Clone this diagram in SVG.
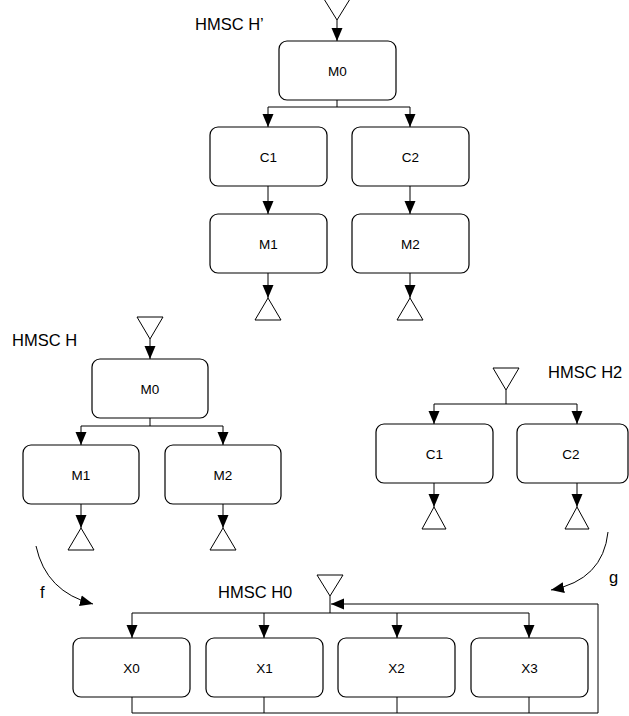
<svg xmlns="http://www.w3.org/2000/svg" width="629" height="716" viewBox="0 0 629 716">
<defs>
<marker id="ah" markerUnits="userSpaceOnUse" markerWidth="13" markerHeight="12" refX="13" refY="6" orient="auto">
<path d="M0,0.5 L13,6 L0,11.5 z" fill="#000"/>
</marker>
</defs>
<style>
.box{fill:#fff;stroke:#000;stroke-width:1.2}
.tri{fill:#fff;stroke:#000;stroke-width:1}
.ln{fill:none;stroke:#000;stroke-width:1}
.arr{fill:none;stroke:#000;stroke-width:1;marker-end:url(#ah)}
.bl{font-family:"Liberation Sans",Arial,sans-serif;font-size:13.5px;text-anchor:middle;fill:#000}
.ttl{font-family:"Liberation Sans",Arial,sans-serif;font-size:16.5px;fill:#000}
</style>
<rect width="629" height="716" fill="#fff"/>

<!-- HMSC H' -->
<text class="ttl" x="195" y="30">HMSC H’</text>
<g id="hp-start"><polygon class="tri" points="324,-1 350,-1 337,20"/></g>
<g id="hp-M0"><rect class="box" x="279" y="41" width="117" height="59" rx="8"/><text class="bl" x="337.5" y="75.5">M0</text></g>
<g id="hp-C1"><rect class="box" x="210" y="127" width="117" height="59" rx="8"/><text class="bl" x="268.5" y="161.5">C1</text></g>
<g id="hp-C2"><rect class="box" x="352" y="127" width="117" height="59" rx="8"/><text class="bl" x="410.5" y="161.5">C2</text></g>
<g id="hp-M1"><rect class="box" x="210" y="214" width="117" height="59" rx="8"/><text class="bl" x="268.5" y="248.5">M1</text></g>
<g id="hp-M2"><rect class="box" x="352" y="214" width="117" height="59" rx="8"/><text class="bl" x="410.5" y="248.5">M2</text></g>
<g id="hp-end1"><polygon class="tri" points="268,298 255,320 281,320"/></g>
<g id="hp-end2"><polygon class="tri" points="410,298 397,320 423,320"/></g>

<!-- HMSC H -->
<text class="ttl" x="12" y="346">HMSC H</text>
<g id="h-start"><polygon class="tri" points="137,317 163,317 150,339"/></g>
<g id="h-M0"><rect class="box" x="92" y="359" width="116" height="59" rx="8"/><text class="bl" x="150" y="393.5">M0</text></g>
<g id="h-M1"><rect class="box" x="23" y="445" width="116" height="59" rx="8"/><text class="bl" x="81" y="479.5">M1</text></g>
<g id="h-M2"><rect class="box" x="165" y="445" width="116" height="59" rx="8"/><text class="bl" x="223" y="479.5">M2</text></g>
<g id="h-end1"><polygon class="tri" points="81,528 68,550 94,550"/></g>
<g id="h-end2"><polygon class="tri" points="223,528 210,550 236,550"/></g>

<!-- HMSC H2 -->
<text class="ttl" x="548" y="378">HMSC H2</text>
<g id="h2-start"><polygon class="tri" points="493,368 519,368 506,390"/></g>
<g id="h2-C1"><rect class="box" x="376" y="424" width="117" height="59" rx="8"/><text class="bl" x="434.5" y="458.5">C1</text></g>
<g id="h2-C2"><rect class="box" x="517" y="424" width="111" height="59" rx="8"/><text class="bl" x="571" y="458.5">C2</text></g>
<g id="h2-end1"><polygon class="tri" points="434,507 422,529 446,529"/></g>
<g id="h2-end2"><polygon class="tri" points="577,507 565,529 589,529"/></g>

<!-- HMSC H0 -->
<text class="ttl" x="218" y="598">HMSC H0</text>
<g id="h0-start"><polygon class="tri" points="317,575 343,575 330,596"/></g>
<g id="h0-X0"><rect class="box" x="73" y="638" width="117" height="59" rx="8"/><text class="bl" x="131.5" y="672.5">X0</text></g>
<g id="h0-X1"><rect class="box" x="206" y="638" width="117" height="59" rx="8"/><text class="bl" x="264.5" y="672.5">X1</text></g>
<g id="h0-X2"><rect class="box" x="338" y="638" width="117" height="59" rx="8"/><text class="bl" x="396.5" y="672.5">X2</text></g>
<g id="h0-X3"><rect class="box" x="471" y="638" width="117" height="59" rx="8"/><text class="bl" x="529.5" y="672.5">X3</text></g>

<text class="ttl" x="40" y="598" font-size="16">f</text>
<text class="ttl" x="609" y="583" font-size="16">g</text>

<g id="connectors">
<!-- H' -->
<path class="arr" d="M337,20 V41"/>
<path class="ln" d="M337,100 V107 M268,107 H410"/>
<path class="arr" d="M268,107 V127"/>
<path class="arr" d="M410,107 V127"/>
<path class="arr" d="M268,186 V214"/>
<path class="arr" d="M410,186 V214"/>
<path class="arr" d="M268,273 V298"/>
<path class="arr" d="M410,273 V298"/>
<!-- H -->
<path class="arr" d="M150,339 V359"/>
<path class="ln" d="M150,418 V426 M81,426 H223"/>
<path class="arr" d="M81,426 V445"/>
<path class="arr" d="M223,426 V445"/>
<path class="arr" d="M81,504 V528"/>
<path class="arr" d="M223,504 V528"/>
<!-- H2 -->
<path class="ln" d="M506,390 V404 M434,404 H577"/>
<path class="arr" d="M434,404 V424"/>
<path class="arr" d="M577,404 V424"/>
<path class="arr" d="M434,483 V507"/>
<path class="arr" d="M577,483 V507"/>
<!-- H0 -->
<path class="ln" d="M330,596 V613 M132,613 H529"/>
<path class="arr" d="M132,613 V638"/>
<path class="arr" d="M264,613 V638"/>
<path class="arr" d="M397,613 V638"/>
<path class="arr" d="M529,613 V638"/>
<path class="ln" d="M132,697 V713 M264,697 V713 M397,697 V713 M529,697 V713 M132,713 H598"/>
<path class="arr" d="M598,713 V604 H331"/>
<!-- f, g -->
<path class="arr" d="M36,546 Q46,592 93,604"/>
<path class="arr" d="M608,532 Q603,580 551,590"/>
</g>
</svg>
